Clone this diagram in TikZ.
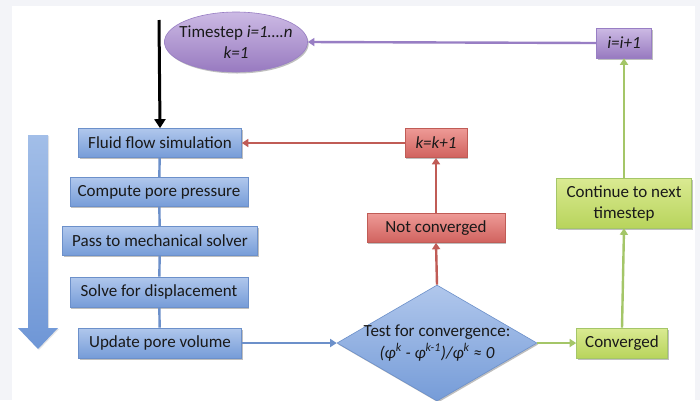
\documentclass[tikz,border=0pt]{standalone}
\usepackage{fontspec}
\setmainfont{Carlito}
\usetikzlibrary{shapes.geometric,arrows.meta,shadows}
\definecolor{bgGray}{RGB}{243,244,248}
\definecolor{blueTop}{RGB}{176,199,236}
\definecolor{blueBot}{RGB}{118,156,216}
\definecolor{arrTop}{RGB}{162,190,232}
\definecolor{arrBot}{RGB}{110,150,214}
\definecolor{blueLine}{RGB}{108,144,202}
\definecolor{redTop}{RGB}{238,154,150}
\definecolor{redBot}{RGB}{208,98,94}
\definecolor{redLine}{RGB}{192,92,86}
\definecolor{greenTop}{RGB}{218,234,146}
\definecolor{greenBot}{RGB}{184,212,92}
\definecolor{greenLine}{RGB}{164,198,104}
\definecolor{purpTop}{RGB}{204,186,228}
\definecolor{purpBot}{RGB}{152,122,192}
\definecolor{purpLine}{RGB}{152,126,196}
\tikzset{
  x=1pt, y=-1pt,
  every node/.style={font=\fontsize{17}{20}\selectfont, text=black!90, inner sep=0pt, align=center},
  shd/.style={drop shadow={shadow xshift=1.2pt, shadow yshift=-1.5pt, opacity=0.25, fill=black}},
  bluebox/.style={rectangle, draw=blueLine, line width=0.6pt, top color=blueTop, bottom color=blueBot, shd, minimum height=29pt},
  redbox/.style={rectangle, draw=redLine, line width=0.6pt, top color=redTop, bottom color=redBot, shd, minimum height=29pt},
  greenbox/.style={rectangle, draw=greenLine, line width=0.6pt, top color=greenTop, bottom color=greenBot, shd, minimum height=30pt},
  purpbox/.style={rectangle, draw=purpLine, line width=0.6pt, top color=purpTop, bottom color=purpBot, shd, minimum height=30pt},
  tip/.style={-{Triangle[width=8pt,length=6.5pt]}},
  blueconn/.style={draw=blueLine, line width=2.4pt},
  redconn/.style={draw=redLine, line width=2.4pt},
  greenconn/.style={draw=greenLine, line width=2.4pt},
  purpconn/.style={draw=purpLine, line width=2.4pt},
}
\begin{document}
\begin{tikzpicture}
% background and frame
\fill[bgGray] (0,0) rectangle (700,400);
\fill[white] (12,6) rectangle (695,400);
\useasboundingbox (0,0) rectangle (700,400);

% big blue process arrow
\shade[top color=arrTop, bottom color=arrBot, drop shadow={shadow xshift=1pt, shadow yshift=-1pt, opacity=0.2}]
  (28,135) -- (48,135) -- (48,328) -- (58,328) -- (38,349) -- (18,328) -- (28,328) -- cycle;

% nodes
\node[ellipse, draw=purpLine, line width=0.6pt, top color=purpTop, bottom color=purpBot, shd,
      minimum width=136pt, minimum height=60pt, inner sep=-6pt] (ts) at (236,42)
  {Timestep \textit{i=1….n}\\[1pt]\textit{k=1}};
\node[purpbox, minimum width=55pt] (iinc) at (624,43) {\textit{i=i+1}};

\node[bluebox, minimum width=163pt] (fluid) at (160,143) {Fluid flow simulation};
\node[bluebox, minimum width=178pt] (comp) at (159,192) {Compute pore pressure};
\node[bluebox, minimum width=195pt] (pass) at (160,241) {Pass to mechanical solver};
\node[bluebox, minimum width=178pt, minimum height=30pt] (solve) at (159,292) {Solve for displacement};
\node[bluebox, minimum width=163pt, minimum height=30pt] (upd) at (160,343) {Update pore volume};

\node[diamond, draw=blueLine, line width=0.6pt, top color=blueTop, bottom color=blueBot, shd,
      minimum width=200pt, minimum height=116pt, aspect=1.72, inner sep=-14pt] (test) at (437,343)
  {\raisebox{-4pt}{\shortstack{Test for convergence:\\[1pt]\textit{(φ\textsuperscript{k} - φ\textsuperscript{k-1})/φ\textsuperscript{k} ≈ 0}}}};

\node[redbox, minimum width=138pt] (notc) at (436,228) {Not converged};
\node[redbox, minimum width=62pt] (kinc) at (436,143) {\textit{k=k+1}};

\node[greenbox, minimum width=91pt] (conv) at (622,343) {Converged};
\node[greenbox, minimum width=135pt, minimum height=50pt] (cont) at (624,203) {Continue to next\\[1pt]timestep};

\coordinate (start) at (159,20);

% connectors
\draw[line width=3pt, -{Triangle[width=11pt,length=9pt]}] (start) -- (fluid.north);
\draw[purpconn, tip, fill=purpLine] (iinc.west) -- (ts.east);

\draw[blueconn] (fluid) -- (comp);
\draw[blueconn] (comp) -- (pass);
\draw[blueconn] (pass) -- (solve);
\draw[blueconn] (solve) -- (upd);
\draw[blueconn, tip, fill=blueLine] (upd.east) -- (test.west);

\draw[redconn, tip, fill=redLine] (test.north) -- (notc.south);
\draw[redconn, tip, fill=redLine] (notc.north) -- (kinc.south);
\draw[redconn, tip, fill=redLine] (kinc.west) -- (fluid.east);

\draw[greenconn, tip, fill=greenLine] (test.east) -- (conv.west);
\draw[greenconn, tip, fill=greenLine] (conv.north) -- (cont.south);
\draw[greenconn, tip, fill=greenLine] (cont.north) -- (iinc.south);
\end{tikzpicture}
\end{document}
